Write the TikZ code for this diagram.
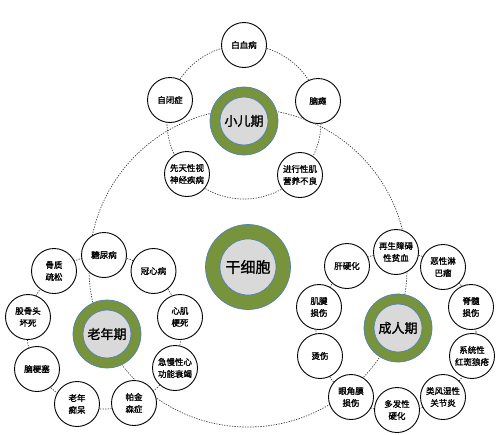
\documentclass[tikz,border=0pt]{standalone}
\usepackage{fontspec}
\newfontfamily\cjk[AutoFakeBold=1.6]{Noto Sans CJK SC}
\definecolor{ringgreen}{HTML}{77933C}
\definecolor{ringblue}{HTML}{4F81BD}
\definecolor{ringgray}{HTML}{D9D9D9}
\begin{document}
\begin{tikzpicture}[x=1pt,y=-1pt,
  dcirc/.style={draw=black!75, line width=0.7pt, dash pattern=on 1.3pt off 1.3pt},
  dis/.style={circle, draw=black, line width=0.9pt, fill=white, minimum size=45pt, inner sep=0pt, align=center,
    font=\cjk\bfseries\fontsize{8.5}{12}\selectfont},
  ringo/.style={circle, draw=ringblue, line width=0.7pt, fill=ringgreen, minimum size=68pt, inner sep=0pt},
  ringi/.style={circle, draw=ringblue, line width=0.7pt, fill=ringgray, minimum size=48pt, inner sep=0pt,
    font=\cjk\bfseries\fontsize{13}{15}\selectfont},
  ringob/.style={ringo, minimum size=85pt},
  ringib/.style={ringi, minimum size=56pt, font=\cjk\bfseries\fontsize{15}{17}\selectfont}]
\useasboundingbox (0,0) rectangle (503,434);
% centers
\coordinate (C0) at (248,268);
\coordinate (C1) at (244,122);
\coordinate (C2) at (104,332);
\coordinate (C3) at (396,332);
% dashed circles
\draw[dcirc] (C0) circle [radius=159pt];
\draw[dcirc] (C1) circle [radius=77pt];
\draw[dcirc] (C2) circle [radius=77pt];
\draw[dcirc] (C3) circle [radius=80pt];
% stem cell
\node[ringob] (r0) at (248,267) {};
\node[ringib] (s0) at (248,267) {干细胞};
% childhood
\node[ringo] (r1) at (244,121) {};
\node[ringi] (s1) at (244,121) {小儿期};
\node[dis] (a1) at (244,45) {白血病};
\node[dis] (a2) at (318,101) {脑瘫};
\node[dis] (a3) at (300,175) {进行性肌\\营养不良};
\node[dis] (a4) at (187,174) {先天性视\\神经疾病};
\node[dis] (a5) at (170,100) {自闭症};
% old age
\node[ringo] (r2) at (107,334) {};
\node[ringi] (s2) at (107,334) {老年期};
\node[dis] (b1) at (104,255) {糖尿病};
\node[dis] (b2) at (153.5,271) {冠心病};
\node[dis] (b3) at (180,317) {心肌\\梗死};
\node[dis] (b4) at (175,368) {急慢性心\\功能衰竭};
\node[dis] (b5) at (134,403) {帕金\\森症};
\node[dis] (b6) at (77,404) {老年\\痴呆};
\node[dis] (b7) at (37,369) {脑梗塞};
\node[dis] (b8) at (28,317) {股骨头\\坏死};
\node[dis] (b9) at (54,271) {骨质\\疏松};
% adulthood
\node[ringo] (r3) at (398,328) {};
\node[ringi] (s3) at (398,328) {成人期};
\node[dis] (c1) at (396,252) {再生障碍\\性贫血};
\node[dis] (c2) at (443,267) {恶性淋\\巴瘤};
\node[dis] (c3) at (471,307) {脊髓\\损伤};
\node[dis] (c4) at (472,356) {系统性\\红斑狼疮};
\node[dis] (c5) at (443,397) {类风湿性\\关节炎};
\node[dis] (c6) at (397,410) {多发性\\硬化};
\node[dis] (c7) at (351,397) {眼角膜\\损伤};
\node[dis] (c8) at (320,356) {烫伤};
\node[dis] (c9) at (319,307) {肌腱\\损伤};
\node[dis] (c10) at (347,266) {肝硬化};
\end{tikzpicture}
\end{document}
